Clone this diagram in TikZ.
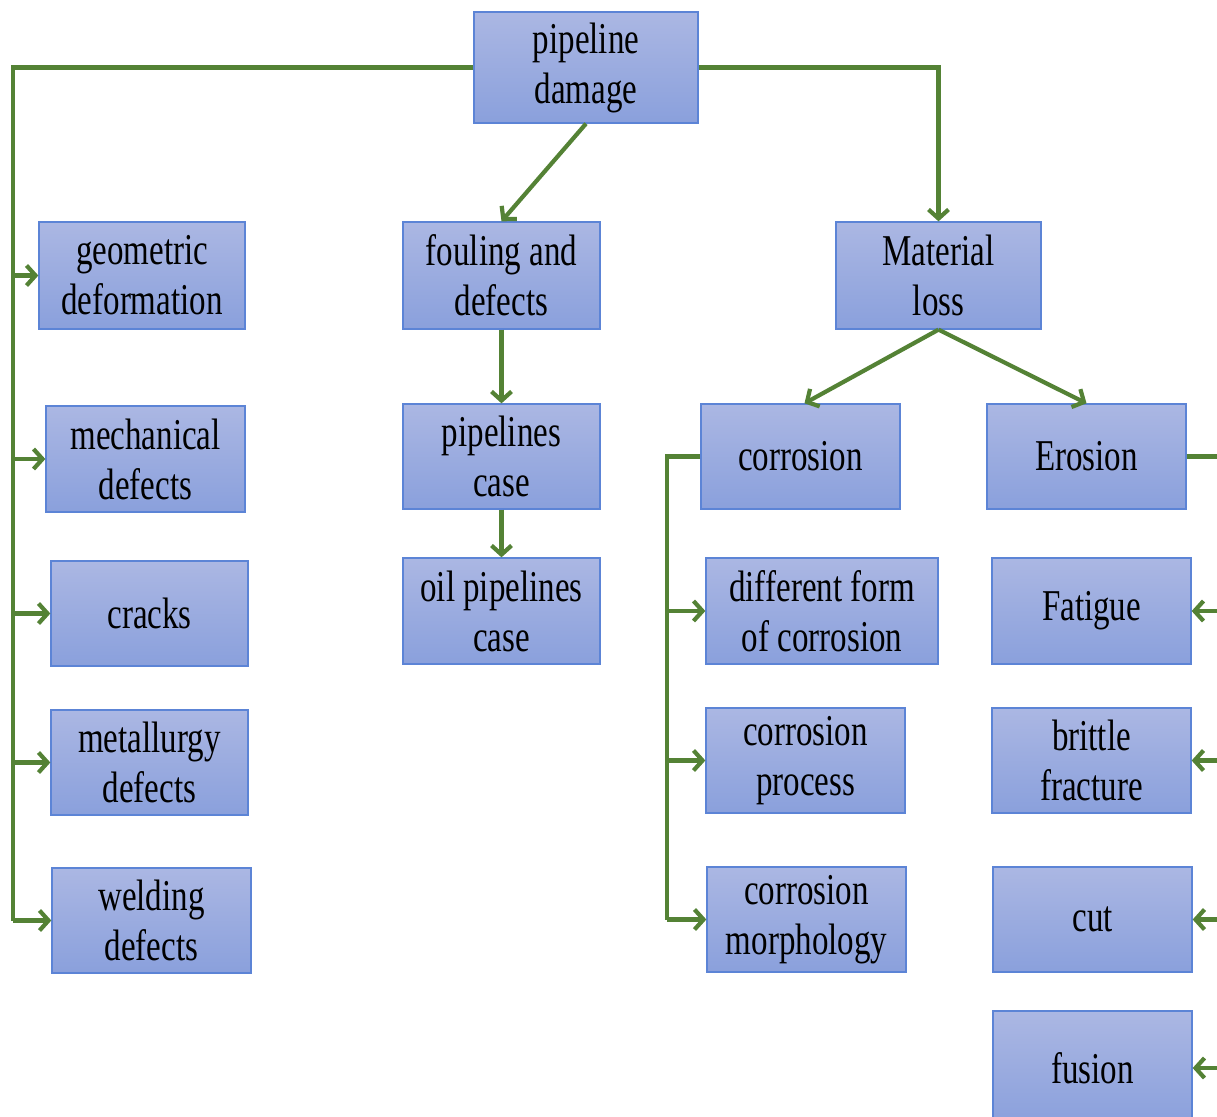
\documentclass[tikz,border=0pt]{standalone}
\usepackage{fontspec}
\setmainfont{Liberation Serif}[FakeStretch=0.75]
\usetikzlibrary{arrows.meta}
\definecolor{boxtop}{RGB}{171,183,227}
\definecolor{boxbot}{RGB}{138,160,220}
\definecolor{boxline}{RGB}{92,132,214}
\definecolor{linkgreen}{RGB}{84,130,53}
\tikzset{
  box/.style={draw=boxline, line width=1.3pt, top color=boxtop, bottom color=boxbot,
    inner sep=0pt, align=center, text=black,
    font=\fontsize{44}{50}\selectfont},
  link/.style={draw=linkgreen, line width=4.2pt},
  arr/.style={link, -{Straight Barb[length=9pt,width=20pt,line width=4.2pt]}},
}
\begin{document}
\begin{tikzpicture}[x=1pt,y=-1pt]
\clip (0,0) rectangle (1217,1116);
\fill[white] (0,0) rectangle (1217,1116);

% root
\node[box, minimum width=224, minimum height=111] (pd) at (586,67.5) {pipeline\\damage};

% left column
\node[box, minimum width=206, minimum height=107] (geo) at (142,275.5) {geometric\\deformation};
\node[box, minimum width=199, minimum height=106] (mech) at (145.5,459) {mechanical\\defects};
\node[box, minimum width=197, minimum height=105] (crack) at (149.5,613.5) {cracks};
\node[box, minimum width=197, minimum height=105] (metal) at (149.5,762.5) {metallurgy\\defects};
\node[box, minimum width=199, minimum height=105] (weld) at (151.5,920.5) {welding\\defects};

% middle column
\node[box, minimum width=197, minimum height=107] (foul) at (501.5,275.5) {fouling and\\defects};
\node[box, minimum width=197, minimum height=105] (pcase) at (501.5,456.5) {pipelines\\case};
\node[box, minimum width=197, minimum height=106] (oil) at (501.5,611) {oil pipelines\\case};

% material loss branch
\node[box, minimum width=205, minimum height=107] (mat) at (938.5,275.5) {Material\\loss};
\node[box, minimum width=199, minimum height=105] (corr) at (800.5,456.5) {corrosion};
\node[box, minimum width=199, minimum height=105] (eros) at (1086.5,456.5) {Erosion};
\node[box, minimum width=232, minimum height=106] (diff) at (822,611) {different form\\of corrosion};
\node[box, minimum width=199, minimum height=105] (cproc) at (805.5,760.5) {corrosion\\process};
\node[box, minimum width=199, minimum height=105] (cmorph) at (806.5,919.5) {corrosion\\morphology};
\node[box, minimum width=199, minimum height=106] (fat) at (1091.5,611) {Fatigue};
\node[box, minimum width=199, minimum height=105] (brit) at (1091.5,760.5) {brittle\\fracture};
\node[box, minimum width=199, minimum height=105] (cut) at (1092.5,919.5) {cut};
\node[box, minimum width=199, minimum height=114] (fus) at (1092.5,1068) {fusion};

% trunk coordinates
\coordinate (lt) at (13,67.5);
\coordinate (ct) at (667,456.5);
\coordinate (rt) at (1232,456.5);

% left trunk
\draw[link] (pd.west) -- (lt) -- (lt |- weld.west);
\foreach \n in {geo,mech,crack,metal,weld}
  \draw[arr] (lt |- \n.west) -- (\n.west);

% middle chain
\draw[arr] (pd.south) -- (foul.north);
\draw[arr] (foul.south) -- (pcase.north);
\draw[arr] (pcase.south) -- (oil.north);

% right branch
\draw[arr] (pd.east) -| (mat.north);
\draw[arr] (mat.south) -- ([xshift=4pt]corr.north);
\draw[arr] (mat.south) -- (eros.north);

% corrosion trunk
\draw[link] (corr.west) -- (ct) -- (ct |- cmorph.west);
\foreach \n in {diff,cproc,cmorph}
  \draw[arr] (ct |- \n.west) -- (\n.west);

% erosion trunk
\draw[link] (eros.east) -- (rt) -- (rt |- fus.east);
\foreach \n in {fat,brit,cut,fus}
  \draw[arr] (rt |- \n.east) -- (\n.east);
\end{tikzpicture}
\end{document}
